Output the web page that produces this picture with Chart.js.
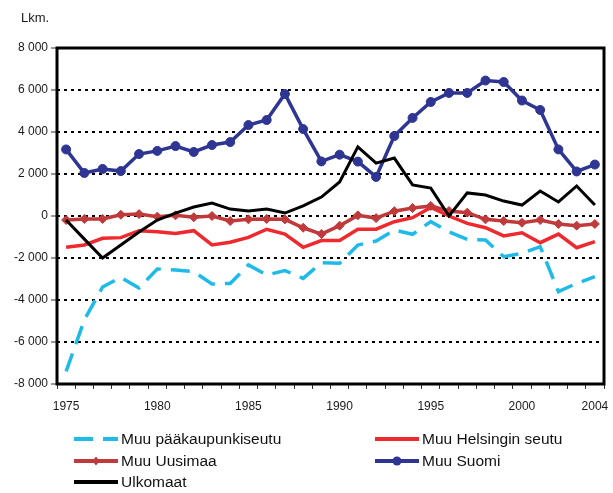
<!DOCTYPE html>
<html>
<head>
<meta charset="utf-8">
<title>Muuttoliike</title>
<script src="https://cdn.jsdelivr.net/npm/chart.js@4/dist/chart.umd.min.js"></script>
<style>
  html, body { margin: 0; padding: 0; background: #fff; }
  #wrap { position: relative; width: 613px; height: 493px; }
</style>
</head>
<body>
<div id="wrap"><canvas id="migration-chart" width="613" height="493"></canvas></div>
<script>
// Years on the x axis
const years = ['1975', '1976', '1977', '1978', '1979', '1980', '1981', '1982', '1983', '1984',
               '1985', '1986', '1987', '1988', '1989', '1990', '1991', '1992', '1993', '1994',
               '1995', '1996', '1997', '1998', '1999', '2000', '2001', '2002', '2003', '2004'];
const shownYears = ['1975', '1980', '1985', '1990', '1995', '2000', '2004'];

// Net migration by area (persons)
const muuPaakaupunkiseutu = [-7400, -4950, -3380, -2920, -3430, -2520, -2570, -2650, -3240, -3210,
                             -2330, -2810, -2600, -2970, -2230, -2250, -1380, -1190, -670, -870,
                             -270, -750, -1110, -1140, -1940, -1780, -1460, -3600, -3210, -2890];
const muuHelsinginSeutu = [-1490, -1380, -1060, -1030, -700, -750, -830, -700, -1380, -1250,
                           -1020, -630, -860, -1490, -1170, -1170, -630, -630, -270, -80,
                           410, 0, -350, -560, -950, -800, -1270, -860, -1510, -1220];
const muuUusimaa = [-190, -140, -140, 60, 90, -30, 30, -60, 0, -240,
                    -160, -140, -160, -560, -860, -460, 30, -100, 230, 380,
                    480, 240, 160, -160, -240, -320, -190, -380, -460, -380];
const muuSuomi = [3170, 2050, 2240, 2140, 2950, 3100, 3330, 3050, 3380, 3520,
                  4330, 4570, 5810, 4140, 2600, 2920, 2590, 1860, 3810, 4670,
                  5430, 5860, 5860, 6450, 6380, 5500, 5050, 3170, 2120, 2450];
const ulkomaat = [-190, -1100, -2000, -1380, -760, -190, 140, 430, 620, 330,
                  240, 330, 140, 480, 900, 1620, 3290, 2520, 2760, 1480,
                  1330, 0, 1100, 1000, 710, 520, 1190, 670, 1430, 520];

const yMin = -8000, yMax = 8000, yStep = 2000;

function fmtThousands(v) {
    const s = String(Math.abs(v)).replace(/\B(?=(\d{3})+(?!\d))/g, ' ');
    return (v < 0 ? '-' : '') + s;
}

const FONT = '"Liberation Sans", Arial, sans-serif';

// Frame around the plot, the "Lkm." caption and the two-column legend
const decorations = {
    id: 'decorations',
    beforeDatasetsDraw(chart) {
        const { ctx, chartArea: a } = chart;
        ctx.save();
        ctx.strokeStyle = '#000';
        ctx.lineWidth = 3;
        ctx.strokeRect(a.left, a.top, a.right - a.left, a.bottom - a.top);
        ctx.restore();
    },
    afterDraw(chart) {
        const { ctx } = chart;
        ctx.save();
        ctx.fillStyle = '#1a1a1a';
        ctx.font = '13px ' + FONT;
        ctx.textBaseline = 'middle';
        ctx.fillText('Lkm.', 21, 18);

        const colX = [74, 375];
        const rowY = [439, 461, 482];
        chart.data.datasets.forEach((ds, i) => {
            const x0 = colX[i % 2];
            const y = rowY[Math.floor(i / 2)];
            ctx.save();
            ctx.strokeStyle = ds.borderColor;
            ctx.lineWidth = 4;
            ctx.setLineDash(ds.borderDash || []);
            ctx.beginPath();
            ctx.moveTo(x0, y);
            ctx.lineTo(x0 + 44, y);
            ctx.stroke();
            ctx.restore();
            if (ds.pointRadius > 0) {
                const r = ds.pointRadius;
                ctx.fillStyle = ds.backgroundColor;
                ctx.beginPath();
                if (ds.pointStyle === 'circle') {
                    ctx.arc(x0 + 22, y, r, 0, Math.PI * 2);
                } else {
                    ctx.moveTo(x0 + 22, y - r); ctx.lineTo(x0 + 22 + r * 0.8, y);
                    ctx.lineTo(x0 + 22, y + r); ctx.lineTo(x0 + 22 - r * 0.8, y);
                    ctx.closePath();
                }
                ctx.fill();
            }
            ctx.fillStyle = '#111';
            ctx.font = '15.5px ' + FONT;
            ctx.textBaseline = 'middle';
            ctx.fillText(ds.label, x0 + 47, y + 1);
        });
        ctx.restore();
    }
};

const ctx = document.getElementById('migration-chart').getContext('2d');
new Chart(ctx, {
    type: 'line',
    data: {
        labels: years,
        datasets: [
            {
                label: 'Muu pääkaupunkiseutu',
                data: muuPaakaupunkiseutu,
                borderColor: '#1fbbe8',
                backgroundColor: '#1fbbe8',
                borderWidth: 3.5,
                borderDash: [19, 10],
                borderCapStyle: 'butt',
                pointRadius: 0,
                order: 4
            },
            {
                label: 'Muu Helsingin seutu',
                data: muuHelsinginSeutu,
                borderColor: '#ee2a2e',
                backgroundColor: '#ee2a2e',
                borderWidth: 3.5,
                pointRadius: 0,
                order: 3
            },
            {
                label: 'Muu Uusimaa',
                data: muuUusimaa,
                borderColor: '#c0393b',
                backgroundColor: '#c0393b',
                borderWidth: 3.5,
                pointStyle: 'rectRot',
                pointRadius: 4.5,
                pointBorderWidth: 1,
                order: 2
            },
            {
                label: 'Muu Suomi',
                data: muuSuomi,
                borderColor: '#2e3592',
                backgroundColor: '#2e3592',
                borderWidth: 3.5,
                pointStyle: 'circle',
                pointRadius: 4.5,
                pointBorderWidth: 1,
                order: 1
            },
            {
                label: 'Ulkomaat',
                data: ulkomaat,
                borderColor: '#000000',
                backgroundColor: '#000000',
                borderWidth: 3,
                pointRadius: 0,
                order: 0
            }
        ]
    },
    options: {
        responsive: false,
        animation: false,
        events: [],
        elements: { line: { tension: 0, borderJoinStyle: 'miter' } },
        layout: { padding: { left: 0, right: 9, top: 48, bottom: 79 } },
        plugins: {
            legend: { display: false },
            tooltip: { enabled: false }
        },
        scales: {
            x: {
                type: 'category',
                offset: true,
                afterFit: (scale) => {
                    scale.height = 30;
                    scale.paddingLeft = 0;
                    scale.paddingRight = 0;
                },
                grid: {
                    offset: true,
                    drawOnChartArea: false,
                    tickLength: 5,
                    tickColor: '#333',
                    tickWidth: 1
                },
                border: { display: false },
                ticks: {
                    autoSkip: false,
                    maxRotation: 0,
                    padding: 10,
                    color: '#1a1a1a',
                    font: { family: FONT, size: 12 },
                    callback: function (value) {
                        const lbl = this.getLabelForValue(value);
                        return shownYears.includes(lbl) ? lbl : '';
                    }
                }
            },
            y: {
                min: yMin,
                max: yMax,
                afterFit: (scale) => { scale.width = 57; },
                grid: {
                    color: (c) => (c.tick && (c.tick.value === yMin || c.tick.value === yMax)) ? 'rgba(0,0,0,0)' : '#000',
                    lineWidth: 2,
                    tickColor: '#333',
                    tickWidth: 1,
                    tickLength: 6
                },
                border: { display: false, dash: [3, 4] },
                ticks: {
                    stepSize: yStep,
                    padding: 3,
                    color: '#1a1a1a',
                    font: { family: FONT, size: 12 },
                    callback: (v) => fmtThousands(v)
                }
            }
        }
    },
    plugins: [decorations]
});
</script>
</body>
</html>
